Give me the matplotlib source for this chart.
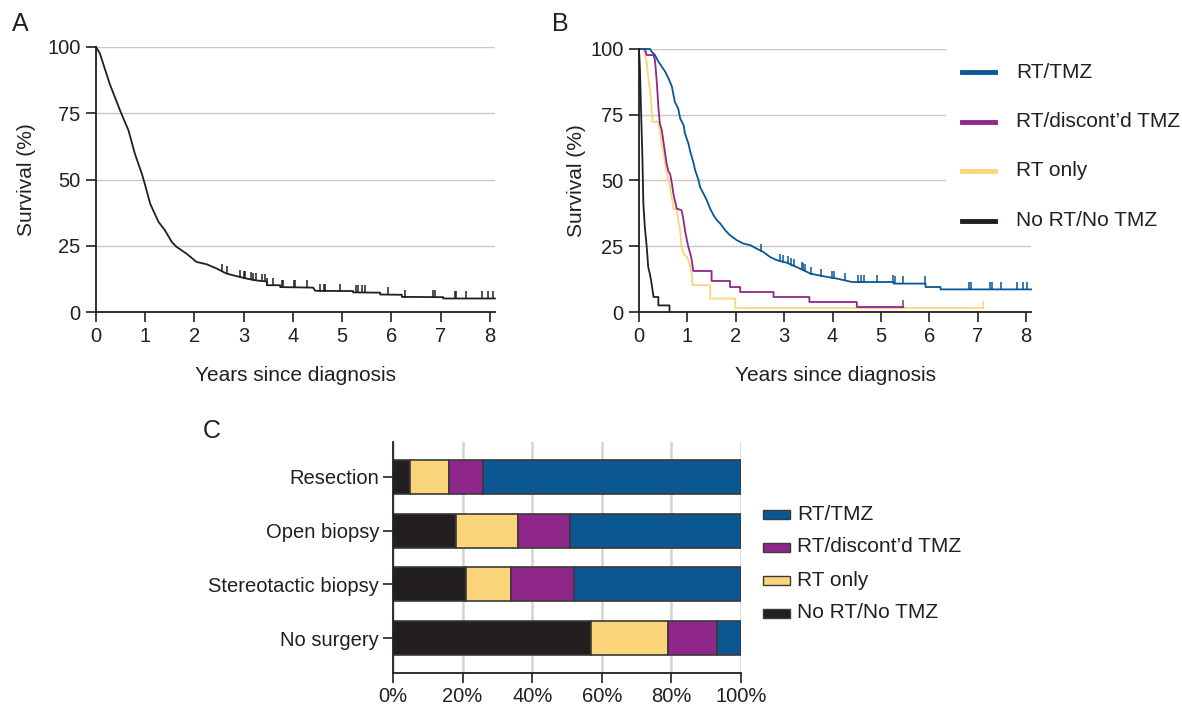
import numpy as np
import matplotlib
matplotlib.use('Agg')
import matplotlib.pyplot as plt
from matplotlib.lines import Line2D
from matplotlib.patches import Rectangle

plt.rcParams['font.family'] = ['Liberation Sans', 'DejaVu Sans']
INK = '#231f20'
plt.rcParams['text.color'] = INK
plt.rcParams['axes.labelcolor'] = INK

# --- data -------------------------------------------------------------
# panel A: overall survival (years, %)
all_t = [0, 0.08, 0.28, 0.49, 0.66, 0.79, 0.93, 0.99, 1.10, 1.16, 1.27, 1.40, 1.54,
         1.64, 1.84, 2.04, 2.25, 2.45, 2.65, 2.86, 3.06, 3.26, 3.47, 3.47, 3.74, 3.74,
         4.41, 4.45, 5.22, 5.22, 5.77, 5.77, 6.21, 6.21, 7.05, 7.05, 8.1]
all_s = [100, 97.5, 86, 76, 68.5, 59.7, 52.2, 48.4, 40.9, 38.4, 34, 30.8, 26.4,
         24.5, 22, 18.9, 18, 16.4, 14.5, 13.5, 12.6, 11.9, 11.5, 10.1, 10.1, 9.4,
         9.2, 8.0, 7.9, 7.4, 7.3, 6.6, 6.5, 5.7, 5.6, 5.1, 5.1]
all_cens = [2.55, 2.65, 2.92, 3.00, 3.03, 3.14, 3.19, 3.24, 3.38, 3.43, 3.47, 3.59,
            3.77, 3.80, 4.02, 4.04, 4.28, 4.55, 4.62, 4.65, 4.95, 5.28, 5.31, 5.41,
            5.47, 5.92, 6.27, 6.85, 6.88, 7.28, 7.31, 7.51, 7.83, 7.95, 8.07]

# panel B: survival by treatment group
tmz_t = [0, 0.23, 0.26, 0.33, 0.40, 0.47, 0.54, 0.61, 0.68, 0.74, 0.81, 0.85, 0.92,
         0.95, 1.02, 1.06, 1.12, 1.16, 1.23, 1.26, 1.33, 1.40, 1.47, 1.54, 1.61,
         1.68, 1.78, 1.88, 2.02, 2.16, 2.30, 2.43, 2.57, 2.71, 2.85, 3.06, 3.40,
         3.54, 3.81, 4.09, 4.40, 5.26, 5.26, 5.92, 5.92, 6.23, 6.23, 8.1]
tmz_s = [100, 100, 99, 97.7, 95.2, 93.3, 91.4, 88.8, 85.7, 79.9, 77.4, 73.6, 71.1,
         67.9, 64.1, 60.9, 57.1, 53.9, 50.1, 47.6, 45.1, 42.5, 39.3, 36.8, 34.9,
         33.6, 31.1, 29.2, 27.3, 26, 25.4, 24.1, 22.8, 20.9, 19.7, 18.7, 15.9,
         14.6, 13.6, 12.7, 11.4, 11.4, 10.8, 10.8, 9.5, 9.5, 8.6, 8.6]
tmz_cens = [2.52, 2.91, 2.98, 3.08, 3.15, 3.21, 3.36, 3.39, 3.43, 3.56, 3.76, 3.99,
            4.02, 4.25, 4.52, 4.59, 4.65, 4.92, 5.24, 5.28, 5.45, 5.91, 6.82, 6.85,
            7.26, 7.30, 7.47, 7.81, 7.94, 8.02]

disc_t = [0, 0.12, 0.16, 0.30, 0.33, 0.37, 0.40, 0.43, 0.47, 0.50, 0.54, 0.57, 0.61,
          0.64, 0.68, 0.71, 0.74, 0.78, 0.88, 0.92, 0.95, 0.99, 1.02, 1.06, 1.09,
          1.12, 1.50, 1.50, 1.88, 1.88, 2.09, 2.09, 2.78, 2.78, 3.52, 3.52, 4.50,
          4.50, 5.46]
disc_s = [100, 100, 97.7, 97.7, 95.8, 86.9, 78, 71.7, 69.2, 65.4, 60.3, 56.5, 53.3,
          52.7, 48.9, 45, 42.5, 39.3, 38.7, 34.9, 31.1, 27.3, 24.7, 22.2, 19.7,
          15.6, 15.6, 11.8, 11.8, 9.5, 9.5, 7.6, 7.6, 5.7, 5.7, 3.8, 3.8,
          1.9, 1.9]
disc_cens = [5.46]

rt_t = [0, 0.09, 0.12, 0.16, 0.19, 0.23, 0.26, 0.28, 0.40, 0.42, 0.45, 0.48, 0.52,
        0.56, 0.59, 0.63, 0.66, 0.69, 0.71, 0.78, 0.81, 0.85, 0.88, 0.92, 0.99,
        1.02, 1.06, 1.09, 1.11, 1.47, 1.47, 1.99, 1.99, 7.11]
rt_s = [100, 100, 98.4, 94.5, 89.5, 84.4, 78, 72.3, 72.3, 70.4, 66.6, 62.8, 59,
        53.9, 51.4, 48.9, 45.1, 42.5, 39.3, 38.7, 34.9, 31.1, 24.7, 22.2, 20.9,
        19.7, 17.1, 14.6, 10.2, 10.2, 5.1, 5.1, 1.5, 1.5]
rt_cens = [7.11]

none_t = [0, 0.02, 0.04, 0.07, 0.09, 0.12, 0.16, 0.19, 0.23, 0.26, 0.30, 0.40, 0.40,
          0.63, 0.63]
none_s = [100, 92, 78, 59, 41.2, 32.4, 24.7, 17.1, 14, 10.8, 5.7, 5.7, 2.5,
          2.5, 0]
none_cens = []

groups = ['RT/TMZ', 'RT/discont\u2019d TMZ', 'RT only', 'No RT/No TMZ']
colors = ['#0a5794', '#8f278b', '#fcd57a', '#231f20']

# panel C: treatment share (%) by surgery type
surgery = ['Resection', 'Open biopsy', 'Stereotactic biopsy', 'No surgery']
pct_none = [5, 18, 21, 57]
pct_rt = [11, 18, 13, 22]
pct_disc = [10, 15, 18, 14]
pct_tmz = [74, 49, 48, 7]

# --- figure -----------------------------------------------------------
W, H = 1182, 711
fig = plt.figure(figsize=(W / 100, H / 100), dpi=100)
axA = fig.add_axes([96 / W, (H - 312) / H, 8.1 * 49.25 / W, 265 / H])
axB = fig.add_axes([639 / W, (H - 312) / H, 8.1 * 48.4 / W, 263 / H])
axC = fig.add_axes([393 / W, (H - 673) / H, 348 / W, 231 / H])


def style_km(ax, grid_ends, ypad):
    ax.set_xlim(0, 8.1)
    ax.set_ylim(0, 100)
    ax.set_xticks(range(0, 9))
    ax.set_yticks([0, 25, 50, 75, 100])
    for v, xe in zip([25, 50, 75, 100], grid_ends):
        ax.axhline(v, xmax=xe, color='#c8c8c8', lw=1, zorder=0)
    for s in ['top', 'right']:
        ax.spines[s].set_visible(False)
    for s in ['left', 'bottom']:
        ax.spines[s].set_color(INK)
        ax.spines[s].set_linewidth(1.3)
    ax.tick_params(direction='out', length=7, width=1.2, colors=INK,
                   labelsize=14.5, pad=4)
    ax.set_xlabel('Years since diagnosis', fontsize=15, labelpad=14)
    ax.set_ylabel('Survival (%)', fontsize=15, labelpad=ypad)


def km(ax, t, s, cens, color, lw=1.3):
    ax.plot(t, s, color=color, lw=lw, clip_on=False, zorder=3)
    if len(cens):
        ys = np.interp(cens, t, s)
        ax.plot(cens, ys + 1.2, ls='none', marker='|', ms=6, mew=1.1,
                color=color, clip_on=False, zorder=3)


# A
style_km(axA, [1, 1, 1, 1], 8)
km(axA, all_t, all_s, all_cens, INK)

# B
style_km(axB, [1, 0.78, 0.78, 0.78], 3)
km(axB, rt_t, rt_s, rt_cens, colors[2])
km(axB, disc_t, disc_s, disc_cens, colors[1])
km(axB, tmz_t, tmz_s, tmz_cens, colors[0])
km(axB, none_t, none_s, none_cens, colors[3])

for i, (g, c) in enumerate(zip(groups, colors)):
    y = 1 - (72 + 49.5 * i) / H
    fig.add_artist(Line2D([962 / W, 995 / W], [y, y], color=c, lw=3.5))
    fig.text(1016 / W, y, g, fontsize=15, va='center', ha='left')

# C
y = np.arange(len(surgery))
left = np.zeros(len(surgery))
for vals, c in zip([pct_none, pct_rt, pct_disc, pct_tmz],
                   [colors[3], colors[2], colors[1], colors[0]]):
    axC.barh(y, vals, left=left, height=0.63, color=c, edgecolor='#3a3a3a',
             linewidth=1.2, zorder=2)
    left += np.array(vals)
axC.set_xlim(0, 100)
axC.set_ylim(3.65, -0.65)
axC.set_xticks([0, 20, 40, 60, 80, 100])
axC.set_xticklabels([f'{v}%' for v in [0, 20, 40, 60, 80, 100]])
axC.set_yticks(y)
axC.set_yticklabels(surgery)
axC.grid(axis='x', color='#d4d4d4', lw=1.8, zorder=0)
axC.set_axisbelow(True)
for s in ['top', 'right']:
    axC.spines[s].set_visible(False)
for s in ['left', 'bottom']:
    axC.spines[s].set_color(INK)
    axC.spines[s].set_linewidth(1.3)
axC.tick_params(direction='out', length=7, width=1.2, colors=INK,
                labelsize=14.5, pad=3)

for i, (g, c) in enumerate(zip(groups, colors)):
    yc = 1 - (514 + 33 * i) / H
    fig.add_artist(Rectangle((763 / W, yc - 4.5 / H), 27 / W, 9 / H,
                             facecolor=c, edgecolor='#3a3a3a', lw=1.0))
    fig.text(797 / W, yc, g, fontsize=15, va='center', ha='left')

# panel letters
fig.text(12 / W, 1 - 24 / H, 'A', fontsize=18, va='center', ha='left')
fig.text(552 / W, 1 - 24 / H, 'B', fontsize=18, va='center', ha='left')
fig.text(203 / W, 1 - 431 / H, 'C', fontsize=18, va='center', ha='left')

fig.savefig('out.png', dpi=100)
